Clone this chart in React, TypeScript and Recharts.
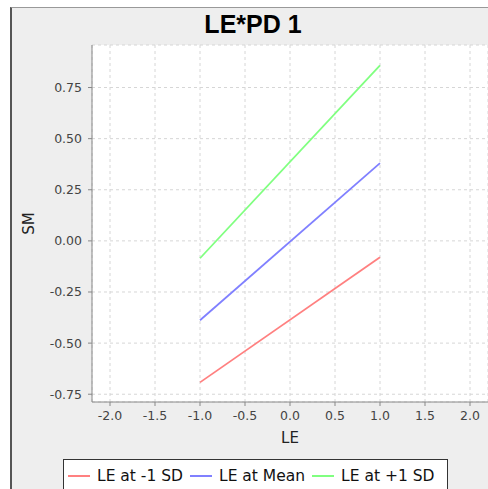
import { LineChart, Line, XAxis, YAxis, CartesianGrid } from 'recharts';

const xTicks = [-2, -1.5, -1, -0.5, 0, 0.5, 1, 1.5, 2];
const yTicks = [-0.75, -0.5, -0.25, 0, 0.25, 0.5, 0.75];

const lowSd = [
  { x: -1, y: -0.692 },
  { x: 1, y: -0.08 },
];
const atMean = [
  { x: -1, y: -0.388 },
  { x: 1, y: 0.38 },
];
const highSd = [
  { x: -1, y: -0.085 },
  { x: 1, y: 0.858 },
];

const series = [
  { name: 'LE at -1 SD', data: lowSd, color: '#ff8080' },
  { name: 'LE at Mean', data: atMean, color: '#8080ff' },
  { name: 'LE at +1 SD', data: highSd, color: '#80ff80' },
];

const font = '"DejaVu Sans", sans-serif';
const tickStyle = { fill: '#444', fontSize: 12.5, fontFamily: font };

export default function App() {
  return (
    <div style={{ position: 'fixed', left: 0, top: 0, width: 488, height: 489, overflow: 'hidden', background: '#fff' }}>
      <div
        style={{
          position: 'absolute',
          left: 10,
          top: 7,
          width: 540,
          height: 540,
          background: '#eeeeee',
          borderLeft: '2px solid #555',
          borderTop: '1px solid #999',
        }}
      />
      <div
        style={{
          position: 'absolute',
          left: 153,
          width: 200,
          top: 9,
          textAlign: 'center',
          fontFamily: '"Liberation Sans", Arial, sans-serif',
          fontWeight: 'bold',
          fontSize: 25,
          lineHeight: '30px',
          color: '#000',
        }}
      >
        LE*PD 1
      </div>
      <div style={{ position: 'absolute', left: 0, top: 0 }}>
        <LineChart width={500} height={489} margin={{ top: 45, right: 12, left: 0, bottom: 46 }}>
          <CartesianGrid fill="#fff" stroke="#d6d6d6" strokeDasharray="3 3" />
          <XAxis
            type="number"
            dataKey="x"
            domain={[-2.2, 2.2]}
            ticks={xTicks}
            tickFormatter={(v: number) => v.toFixed(1)}
            allowDataOverflow
            height={41}
            tickSize={4}
            tickMargin={5}
            tick={tickStyle}
            stroke="#888"
            label={{ value: 'LE', position: 'insideBottom', offset: 0, fill: '#222', fontSize: 15, fontFamily: font }}
          />
          <YAxis
            type="number"
            dataKey="y"
            domain={[-0.788, 0.958]}
            ticks={yTicks}
            tickFormatter={(v: number) => v.toFixed(2)}
            allowDataOverflow
            width={92}
            tickSize={4}
            tickMargin={6}
            tick={tickStyle}
            stroke="#888"
            label={{
              content: (props: any) => {
                const vb = props.viewBox || { y: 45, height: 357 };
                const cy = vb.y + vb.height / 2;
                return (
                  <text
                    x={29}
                    y={cy}
                    transform={`rotate(-90, 29, ${cy})`}
                    textAnchor="middle"
                    dominantBaseline="central"
                    fill="#222"
                    fontSize={15}
                    fontFamily={font}
                  >
                    SM
                  </text>
                );
              },
            }}
          />
          {series.map((s) => (
            <Line
              key={s.name}
              data={s.data}
              dataKey="y"
              name={s.name}
              stroke={s.color}
              strokeWidth={1.8}
              dot={false}
              isAnimationActive={false}
            />
          ))}
        </LineChart>
      </div>
      <div
        style={{
          position: 'absolute',
          left: 63,
          top: 459,
          width: 383,
          height: 60,
          background: '#fff',
          border: '1px solid #333',
          fontFamily: font,
          fontSize: 15.5,
          color: '#111',
        }}
      >
        <div style={{ display: 'flex', alignItems: 'center', height: 31, paddingLeft: 4 }}>
          {series.map((s) => (
            <div key={s.name} style={{ display: 'flex', alignItems: 'center', marginRight: 7 }}>
              <div style={{ width: 22, height: 2, background: s.color, marginRight: 7 }} />
              <span style={{ whiteSpace: 'nowrap' }}>{s.name}</span>
            </div>
          ))}
        </div>
      </div>
    </div>
  );
}
